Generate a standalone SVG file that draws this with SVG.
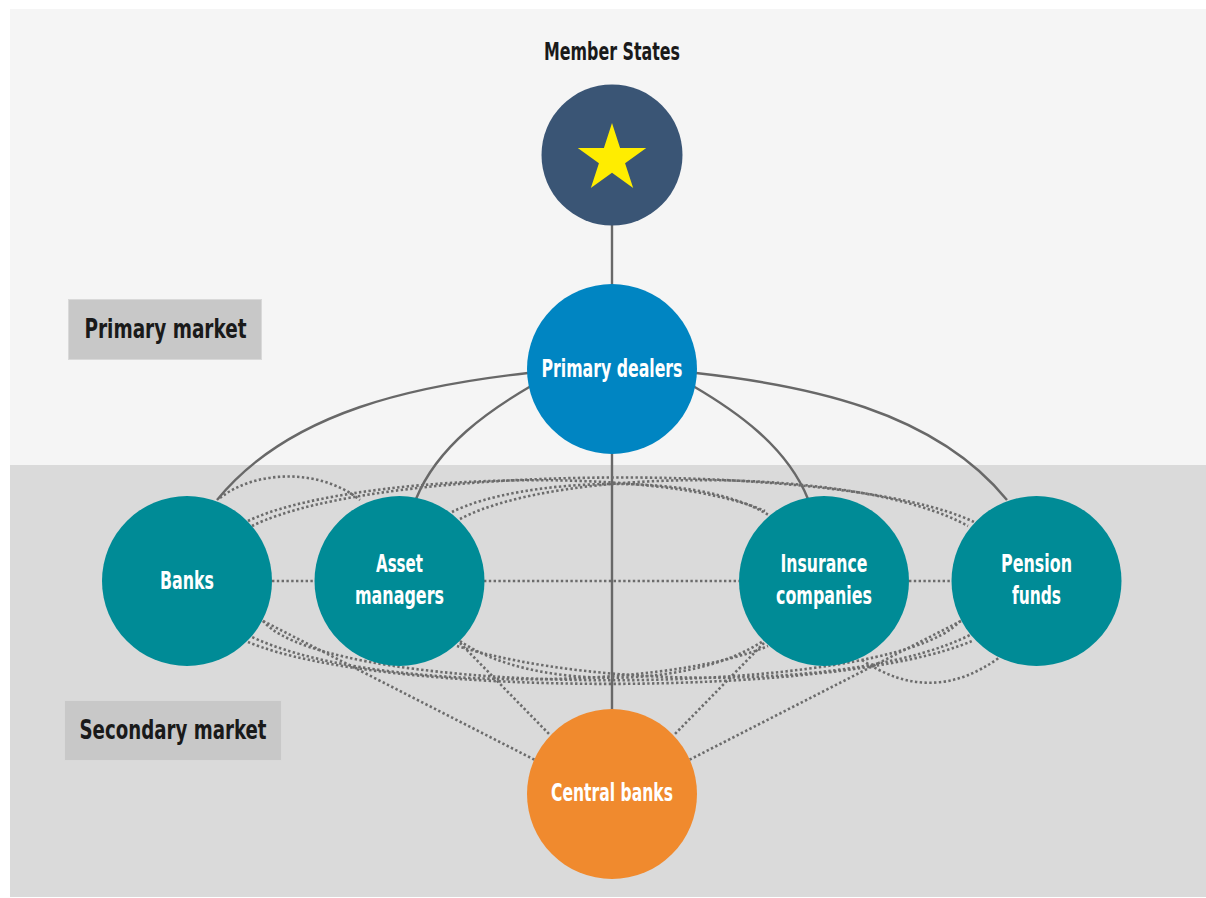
<svg xmlns="http://www.w3.org/2000/svg" width="1206" height="898" viewBox="0 0 1206 898">
  <defs>
    <style>
      .lbl { font-family: "Liberation Sans Narrow", "DejaVu Sans Condensed", "Liberation Sans", sans-serif; font-weight: bold; text-anchor: middle; }
      .node-text { fill: #ffffff; font-size: 24px; }
      .dark-text { fill: #1a1a1a; }
      .solid { fill: none; stroke: #686868; stroke-width: 2.4; }
      .dot { fill: none; stroke: #6c6c6c; stroke-width: 2.6; stroke-dasharray: 2.4 2.4; }
      .teal { fill: #008b96; }
      .band-label { fill: #c8c8c8; stroke: #d9d9d9; stroke-width: 1; }
    </style>
  </defs>

  <!-- background bands -->
  <rect x="0" y="0" width="1206" height="898" fill="#ffffff"/>
  <rect x="10" y="9" width="1196" height="456" fill="#f5f5f5"/>
  <rect x="10" y="465" width="1196" height="432" fill="#dadada"/>

  <!-- market labels -->
  <g id="primary-market">
    <rect class="band-label" x="68.5" y="299.5" width="193" height="60"/>
    <text class="lbl dark-text" x="165.5" y="338" font-size="26" textLength="162" lengthAdjust="spacingAndGlyphs">Primary market</text>
  </g>
  <g id="secondary-market">
    <rect class="band-label" x="64.5" y="700.5" width="217" height="60"/>
    <text class="lbl dark-text" x="173" y="739" font-size="26" textLength="187" lengthAdjust="spacingAndGlyphs">Secondary market</text>
  </g>

  <!-- connectors -->
  <g id="connectors">
    <!-- issuance and dealer distribution -->
    <line class="solid" x1="612" y1="225" x2="612" y2="285"/>
    <line class="solid" x1="612" y1="453" x2="612" y2="710"/>
    <path class="solid" d="M528,373 C420,385 290,410 217,500"/>
    <path class="solid" d="M531,386 C490,410 438,445 416,499"/>
    <path class="solid" d="M693,386 C734,410 786,445 808,499"/>
    <path class="solid" d="M696,373 C804,385 934,410 1007,500"/>

    <!-- secondary trading: straight links -->
    <line class="dot" x1="272" y1="581" x2="314" y2="581"/>
    <line class="dot" x1="484" y1="581" x2="739" y2="581"/>
    <line class="dot" x1="909" y1="581" x2="951" y2="581"/>

    <!-- secondary trading: upper arcs -->
    <path class="dot" d="M220,498 C255,470 320,468 360,500"/>
    <path class="dot" d="M248,521 C340,476 650,462 765,511"/>
    <path class="dot" d="M252,526 C380,462 850,462 974,522"/>
    <path class="dot" d="M452,512 C520,478 700,470 770,516"/>
    <path class="dot" d="M460,519 C560,466 860,466 968,526"/>

    <!-- secondary trading: lower arcs -->
    <path class="dot" d="M263,621 C330,700 890,700 960,621"/>
    <path class="dot" d="M248,635 C360,692 660,692 768,646"/>
    <path class="dot" d="M248,642 C380,698 840,698 972,641"/>
    <path class="dot" d="M460,641 C530,690 690,690 763,641"/>
    <path class="dot" d="M457,646 C600,690 860,690 970,635"/>
    <path class="dot" d="M862,660 Q932,707 1000,657"/>

    <!-- links to central banks -->
    <line class="dot" x1="263" y1="621" x2="535" y2="760"/>
    <line class="dot" x1="460" y1="643" x2="550" y2="735"/>
    <line class="dot" x1="764" y1="643" x2="674" y2="735"/>
    <line class="dot" x1="961" y1="621" x2="689" y2="760"/>
  </g>

  <!-- nodes -->
  <g id="member-states">
    <text class="lbl dark-text" x="612" y="60" font-size="24" textLength="136" lengthAdjust="spacingAndGlyphs">Member States</text>
    <circle cx="612" cy="155" r="70.5" fill="#3a5575"/>
    <polygon fill="#ffed00" points="612,123 620.08,147.88 646.24,147.88 625.08,163.25 633.16,188.12 612,172.75 590.84,188.12 598.92,163.25 577.76,147.88 603.92,147.88"/>
  </g>

  <g id="primary-dealers">
    <circle cx="612" cy="369" r="85" fill="#0085c2"/>
    <text class="lbl node-text" x="612" y="377" textLength="141" lengthAdjust="spacingAndGlyphs">Primary dealers</text>
  </g>

  <g id="banks">
    <circle class="teal" cx="187" cy="581" r="85"/>
    <text class="lbl node-text" x="187" y="589" textLength="54" lengthAdjust="spacingAndGlyphs">Banks</text>
  </g>

  <g id="asset-managers">
    <circle class="teal" cx="399.5" cy="581" r="85"/>
    <text class="lbl node-text" x="399.5" y="572" textLength="47" lengthAdjust="spacingAndGlyphs">Asset</text>
    <text class="lbl node-text" x="399.5" y="604" textLength="89" lengthAdjust="spacingAndGlyphs">managers</text>
  </g>

  <g id="insurance-companies">
    <circle class="teal" cx="824" cy="581" r="85"/>
    <text class="lbl node-text" x="824" y="572" textLength="87" lengthAdjust="spacingAndGlyphs">Insurance</text>
    <text class="lbl node-text" x="824" y="604" textLength="96" lengthAdjust="spacingAndGlyphs">companies</text>
  </g>

  <g id="pension-funds">
    <circle class="teal" cx="1036.5" cy="581" r="85"/>
    <text class="lbl node-text" x="1036.5" y="572" textLength="71" lengthAdjust="spacingAndGlyphs">Pension</text>
    <text class="lbl node-text" x="1036.5" y="604" textLength="49" lengthAdjust="spacingAndGlyphs">funds</text>
  </g>

  <g id="central-banks">
    <circle cx="612" cy="794" r="85" fill="#f08a2e"/>
    <text class="lbl node-text" x="612" y="801" textLength="122" lengthAdjust="spacingAndGlyphs">Central banks</text>
  </g>
</svg>
